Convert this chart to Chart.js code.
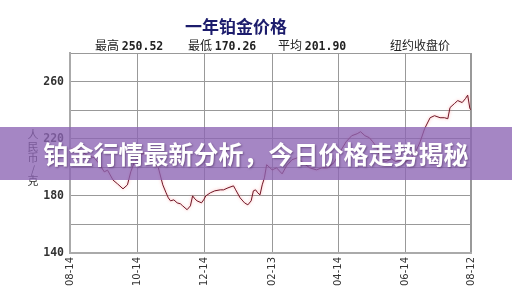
<!DOCTYPE html>
<html lang="zh">
<head>
  <meta charset="UTF-8">
  <script src="https://cdn.jsdelivr.net/npm/chart.js"></script>
  <title>一年铂金价格</title>
  <style>
    body { margin: 0; background: #fff; }
    .wrap { position: relative; width: 512px; height: 307px; overflow: hidden; font-family: "Noto Sans CJK SC", sans-serif; }
    .title { position: absolute; left: 0; width: 472px; top: 16px; text-align: center; font-size: 17px; font-weight: bold; color: #1c1c6c; line-height: 20px; }
    .stat { position: absolute; top: 37px; font-size: 12px; color: #222; line-height: 16px; white-space: nowrap; }
    .stat b { font-family: "DejaVu Sans Mono", monospace; font-size: 11.5px; }
    .ytitle { position: absolute; left: 27px; top: 129px; width: 12px; font-size: 11px; line-height: 11.5px; color: #333; text-align: center; }
    .banner { position: absolute; left: 0; top: 127px; width: 512px; height: 53px; background: rgba(140, 100, 180, 0.78);
              color: #fff; font-size: 25px; font-weight: bold; line-height: 53px; text-align: center;
              text-shadow: 1px 1px 2px rgba(60, 30, 80, 0.5); }
  </style>
</head>
<body>
<div class="wrap">
  <canvas id="chart"></canvas>
  <div class="title">一年铂金价格</div>
  <div class="stat" style="left:95px">最高 <b>250.52</b></div>
  <div class="stat" style="left:188px">最低 <b>170.26</b></div>
  <div class="stat" style="left:278px">平均 <b>201.90</b></div>
  <div class="stat" style="left:390px">纽约收盘价</div>
  <div class="ytitle">人<br>民<br>币<br>/<br>克</div>
  <div class="banner">铂金行情最新分析，今日价格走势揭秘</div>
</div>

<script>

// day offset from 08-14, closing price (元/克)
const days = [0, 5, 11, 16, 22, 27, 31, 34, 39, 43, 48, 52, 55, 58, 63, 69, 74, 80,
  84, 87, 89, 91, 94, 97, 100, 102, 106, 109, 111, 113, 115, 119, 121, 123, 127, 131, 136, 139,
  143, 148, 150, 154, 158, 161, 164, 166, 168, 170, 172, 174, 176, 178,
  183, 187, 192, 196, 201, 206, 212, 217, 223, 228, 233, 239, 244, 250, 255, 260, 263,
  267, 271, 274, 278, 281, 286, 291, 295, 300, 304, 309, 313, 317,
  321, 326, 330, 335, 339, 342, 344, 348, 351, 355, 358, 360, 362, 363];
const prices = [212.3, 213.7, 211.0, 208.0, 206.7, 201.8, 196.8, 198.0, 191.0, 188.4, 184.9, 187.7, 196.8, 203.0, 208.8, 210.0, 205.0, 199.6,
  187.7, 182.1, 178.6, 176.5, 177.2, 175.1, 174.4, 173.0, 170.3, 173.0, 180.0, 177.9, 176.5, 175.1, 177.2, 180.0, 182.1, 183.5, 184.2, 184.2,
  185.6, 187.0, 184.2, 178.6, 175.1, 173.7, 176.5, 183.5, 184.2, 182.1, 180.7, 187.7, 192.6, 201.8,
  198.2, 199.6, 195.4, 201.0, 205.3, 206.7, 202.5, 199.6, 198.2, 199.6, 199.6, 203.2, 210.2, 217.9, 222.1, 223.5, 224.9,
  222.1, 220.7, 217.9, 213.7, 205.3, 203.9, 206.0, 203.9, 205.3, 203.9, 206.7, 210.9, 217.9,
  227.0, 234.7, 236.1, 234.7, 234.7, 234.0, 241.8, 244.6, 246.7, 245.3, 248.1, 250.5, 241.0, 240.4];

const tickDays = [0, 61, 122, 183, 243, 304, 363];
const tickLabels = ['08-14', '10-14', '12-14', '02-13', '04-14', '06-14', '08-12'];

const glow = {
  id: 'glow',
  beforeDatasetsDraw(chart) {
    chart.ctx.save();
    chart.ctx.shadowColor = 'rgba(255, 110, 110, 0.7)';
    chart.ctx.shadowBlur = 3;
  },
  afterDatasetsDraw(chart) {
    chart.ctx.restore();
  }
};

new Chart(document.getElementById('chart'), {
  type: 'line',
  data: {
    datasets: [{
      data: days.map((d, i) => ({ x: d, y: prices[i] })),
      borderColor: '#701626',
      borderWidth: 1,
      pointRadius: 0,
      tension: 0
    }]
  },
  options: {
    responsive: true,
    maintainAspectRatio: false,
    animation: false,
    layout: { padding: { left: 0, right: 41, top: 53, bottom: 0 } },
    plugins: { legend: { display: false }, tooltip: { enabled: false } },
    scales: {
      x: {
        type: 'linear',
        min: 0,
        max: 363,
        afterBuildTicks: s => { s.ticks = tickDays.map(v => ({ value: v })); },
        afterFit: s => { s.height = 54; },
        ticks: {
          autoSkip: false,
          minRotation: 90,
          maxRotation: 90,
          padding: 4,
          color: '#333',
          font: { family: 'DejaVu Sans', size: 10 },
          callback: (v, i) => tickLabels[i]
        },
        grid: {
          drawTicks: false,
          color: '#999',
          lineWidth: c => (c.index === tickDays.length - 1 ? 2 : 1)
        },
        border: { color: '#aaa', width: 2 }
      },
      y: {
        min: 140,
        max: 280,
        afterFit: s => { s.width = 70; },
        ticks: {
          stepSize: 20,
          padding: 6,
          color: '#333',
          font: { family: 'DejaVu Sans Mono', size: 11.5, weight: 'bold' },
          callback: v => ((v - 140) % 40 === 0 ? v : '')
        },
        grid: { drawTicks: false, color: '#999' },
        border: { color: '#aaa', width: 2 }
      }
    }
  },
  plugins: [glow]
});

</script>
</body>
</html>
